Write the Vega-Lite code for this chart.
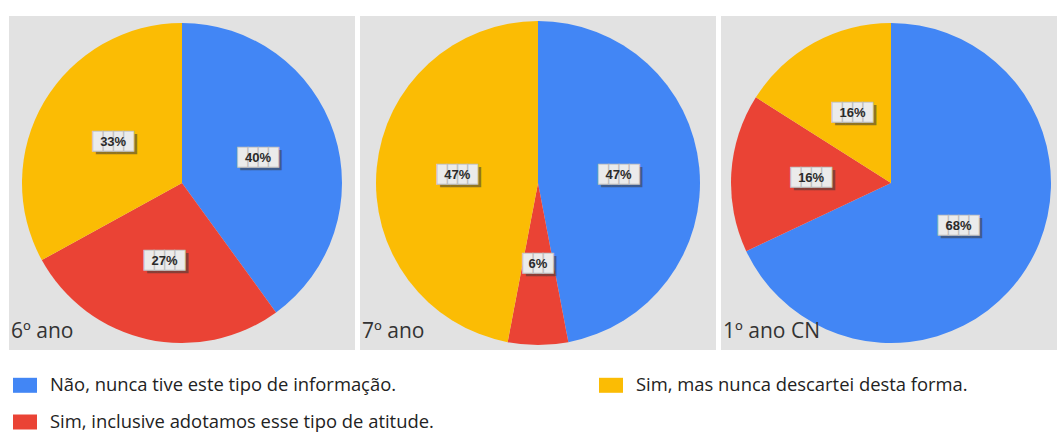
{
  "$schema": "https://vega.github.io/schema/vega-lite/v6.json",
  "padding": {"left": 9, "top": 16, "right": 0, "bottom": 0},
  "background": "white",
  "data": {
    "values": [
      {"turma": "6º ano", "categoria": "Não, nunca tive este tipo de informação.", "pct": 40},
      {"turma": "6º ano", "categoria": "Sim, inclusive adotamos esse tipo de atitude.", "pct": 27},
      {"turma": "6º ano", "categoria": "Sim, mas nunca descartei desta forma.", "pct": 33},
      {"turma": "7º ano", "categoria": "Não, nunca tive este tipo de informação.", "pct": 47},
      {"turma": "7º ano", "categoria": "Sim, inclusive adotamos esse tipo de atitude.", "pct": 6},
      {"turma": "7º ano", "categoria": "Sim, mas nunca descartei desta forma.", "pct": 47},
      {"turma": "1º ano CN", "categoria": "Não, nunca tive este tipo de informação.", "pct": 68},
      {"turma": "1º ano CN", "categoria": "Sim, inclusive adotamos esse tipo de atitude.", "pct": 16},
      {"turma": "1º ano CN", "categoria": "Sim, mas nunca descartei desta forma.", "pct": 16}
    ]
  },
  "transform": [
    {"calculate": "datum.pct + '%'", "as": "rotulo"},
    {"calculate": "datum.pct < 10 ? '███' : '████'", "as": "caixa"}
  ],
  "spacing": 5,
  "hconcat": [
    {
      "width": 346, "height": 334,
      "view": {"fill": "#e2e2e2", "stroke": null},
      "transform": [{"filter": "datum.turma === '6º ano'"}],
      "title": {"text": "6º ano", "orient": "bottom", "anchor": "start", "offset": -29, "dx": 2, "fontSize": 21, "font": "Open Sans", "fontWeight": "normal", "color": "#333333"},
      "layer": [
        {"mark": {"type": "arc", "outerRadius": 160, "stroke": null},
         "encoding": {
           "theta": {"field": "pct", "type": "quantitative", "stack": true},
           "order": {"field": "categoria", "sort": "ascending"},
           "color": {"field": "categoria", "type": "nominal", "scale": {"domain": ["Não, nunca tive este tipo de informação.", "Sim, inclusive adotamos esse tipo de atitude.", "Sim, mas nunca descartei desta forma."], "range": ["#4286F5", "#EA4335", "#FBBC04"]}}}},
        {"mark": {"type": "text", "radius": 80, "dx": 3, "dy": 3, "fill": "#3a3a3a", "opacity": 0.55, "font": "DejaVu Sans Mono", "fontSize": 17},
         "encoding": {
           "theta": {"field": "pct", "type": "quantitative", "stack": true},
           "order": {"field": "categoria", "sort": "ascending"},
           "text": {"field": "caixa", "type": "nominal"}}},
        {"mark": {"type": "text", "radius": 80, "fill": "#ebebeb", "stroke": "#bdbdbd", "strokeWidth": 0.8, "font": "DejaVu Sans Mono", "fontSize": 17},
         "encoding": {
           "theta": {"field": "pct", "type": "quantitative", "stack": true},
           "order": {"field": "categoria", "sort": "ascending"},
           "text": {"field": "caixa", "type": "nominal"}}},
        {"mark": {"type": "text", "radius": 80, "fill": "#2a2a2a", "fontSize": 13, "fontWeight": "bold", "font": "Arial"},
         "encoding": {
           "theta": {"field": "pct", "type": "quantitative", "stack": true},
           "order": {"field": "categoria", "sort": "ascending"},
           "text": {"field": "rotulo", "type": "nominal"}}}
      ]
    },
    {
      "width": 356, "height": 334,
      "view": {"fill": "#e2e2e2", "stroke": null},
      "transform": [{"filter": "datum.turma === '7º ano'"}],
      "title": {"text": "7º ano", "orient": "bottom", "anchor": "start", "offset": -29, "dx": 2, "fontSize": 21, "font": "Open Sans", "fontWeight": "normal", "color": "#333333"},
      "layer": [
        {"mark": {"type": "arc", "outerRadius": 162, "stroke": null},
         "encoding": {
           "theta": {"field": "pct", "type": "quantitative", "stack": true},
           "order": {"field": "categoria", "sort": "ascending"},
           "color": {"field": "categoria", "type": "nominal"}}},
        {"mark": {"type": "text", "radius": 81, "dx": 3, "dy": 3, "fill": "#3a3a3a", "opacity": 0.55, "font": "DejaVu Sans Mono", "fontSize": 17},
         "encoding": {
           "theta": {"field": "pct", "type": "quantitative", "stack": true},
           "order": {"field": "categoria", "sort": "ascending"},
           "text": {"field": "caixa", "type": "nominal"}}},
        {"mark": {"type": "text", "radius": 81, "fill": "#ebebeb", "stroke": "#bdbdbd", "strokeWidth": 0.8, "font": "DejaVu Sans Mono", "fontSize": 17},
         "encoding": {
           "theta": {"field": "pct", "type": "quantitative", "stack": true},
           "order": {"field": "categoria", "sort": "ascending"},
           "text": {"field": "caixa", "type": "nominal"}}},
        {"mark": {"type": "text", "radius": 81, "fill": "#2a2a2a", "fontSize": 13, "fontWeight": "bold", "font": "Arial"},
         "encoding": {
           "theta": {"field": "pct", "type": "quantitative", "stack": true},
           "order": {"field": "categoria", "sort": "ascending"},
           "text": {"field": "rotulo", "type": "nominal"}}}
      ]
    },
    {
      "width": 340, "height": 334,
      "view": {"fill": "#e2e2e2", "stroke": null},
      "transform": [{"filter": "datum.turma === '1º ano CN'"}],
      "title": {"text": "1º ano CN", "orient": "bottom", "anchor": "start", "offset": -29, "dx": 2, "fontSize": 21, "font": "Open Sans", "fontWeight": "normal", "color": "#333333"},
      "layer": [
        {"mark": {"type": "arc", "outerRadius": 160, "stroke": null},
         "encoding": {
           "theta": {"field": "pct", "type": "quantitative", "stack": true},
           "order": {"field": "categoria", "sort": "ascending"},
           "color": {"field": "categoria", "type": "nominal"}}},
        {"mark": {"type": "text", "radius": 80, "dx": 3, "dy": 3, "fill": "#3a3a3a", "opacity": 0.55, "font": "DejaVu Sans Mono", "fontSize": 17},
         "encoding": {
           "theta": {"field": "pct", "type": "quantitative", "stack": true},
           "order": {"field": "categoria", "sort": "ascending"},
           "text": {"field": "caixa", "type": "nominal"}}},
        {"mark": {"type": "text", "radius": 80, "fill": "#ebebeb", "stroke": "#bdbdbd", "strokeWidth": 0.8, "font": "DejaVu Sans Mono", "fontSize": 17},
         "encoding": {
           "theta": {"field": "pct", "type": "quantitative", "stack": true},
           "order": {"field": "categoria", "sort": "ascending"},
           "text": {"field": "caixa", "type": "nominal"}}},
        {"mark": {"type": "text", "radius": 80, "fill": "#2a2a2a", "fontSize": 13, "fontWeight": "bold", "font": "Arial"},
         "encoding": {
           "theta": {"field": "pct", "type": "quantitative", "stack": true},
           "order": {"field": "categoria", "sort": "ascending"},
           "text": {"field": "rotulo", "type": "nominal"}}}
      ]
    }
  ],
  "resolve": {"scale": {"color": "shared"}},
  "config": {
    "view": {"fill": "#e2e2e2", "stroke": null},
    "legend": {
      "orient": "none",
      "legendX": 4,
      "legendY": 357,
      "columns": 2,
      "columnPadding": 165,
      "rowPadding": 15,
      "symbolType": "M-1,-0.625H1V0.625H-1Z",
      "symbolSize": 576,
      "symbolStrokeWidth": 0,
      "symbolOpacity": 1,
      "labelFont": "Open Sans",
      "labelFontSize": 18.4,
      "labelColor": "#222222",
      "labelOffset": 13,
      "labelLimit": 600,
      "title": null
    }
  }
}
